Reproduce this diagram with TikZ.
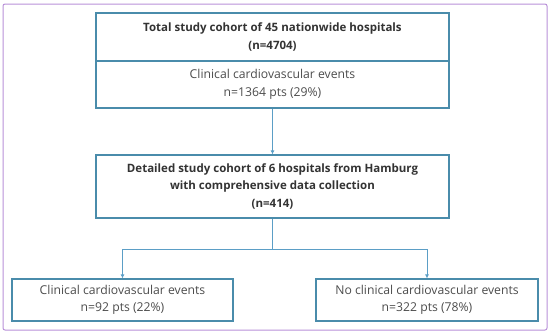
\documentclass[tikz,border=0pt]{standalone}
\usepackage{fontspec}
\setmainfont{Open Sans}
\usepackage{xcolor}
\usetikzlibrary{arrows.meta}
\definecolor{boxline}{HTML}{4A8CAB}
\definecolor{connline}{HTML}{5B9EC6}
\definecolor{frameline}{HTML}{B890D8}
\definecolor{txt}{HTML}{4C4C4C}
\definecolor{headtxt}{HTML}{333333}
\newcommand{\headline}[1]{{\fontsize{11.5}{17.5}\selectfont\bfseries\color{headtxt}#1}}

\begin{document}
\begin{tikzpicture}[
    x=1pt, y=-1pt,
    box/.style={rectangle, draw=boxline, line width=1.1pt, align=center, text=txt,
        font=\fontsize{12.2}{17.5}\selectfont, inner sep=0pt},
    conn/.style={draw=connline, line width=0.8pt, -{Latex[length=4pt,width=4pt]}},
    link/.style={draw=connline, line width=0.8pt}
]
\useasboundingbox (0,0) rectangle (550,333);

% Frame
\draw[frameline, line width=1pt, rounded corners=2pt] (3,4) rectangle (547,330);

% Define boxes
\node[box, minimum width=353pt, minimum height=48pt] (total) at (272.5,37)
    {\headline{Total study cohort of 45 nationwide hospitals}\\\headline{(n=4704)}};
\node[box, minimum width=353pt, minimum height=47pt] (totalev) at (272.5,84.5)
    {Clinical cardiovascular events\\n=1364 pts (29\%)};
\node[box, minimum width=353pt, minimum height=63pt] (detail) at (272.5,186.5)
    {\headline{Detailed study cohort of 6 hospitals from Hamburg}\\\headline{with comprehensive data collection}\\\headline{(n=414)}};
\node[box, minimum width=221pt, minimum height=42pt] (events) at (122.5,300)
    {Clinical cardiovascular events\\n=92 pts (22\%)};
\node[box, minimum width=222pt, minimum height=42pt] (noevents) at (427,300)
    {No clinical cardiovascular events\\n=322 pts (78\%)};
\coordinate (split) at (272.5,249);

% Define connectors
\draw[conn] (totalev) -- (detail);
\draw[link] (detail) -- (split);
\draw[conn] (split) -| (events);
\draw[conn] (split) -| (noevents);

\end{tikzpicture}
\end{document}
